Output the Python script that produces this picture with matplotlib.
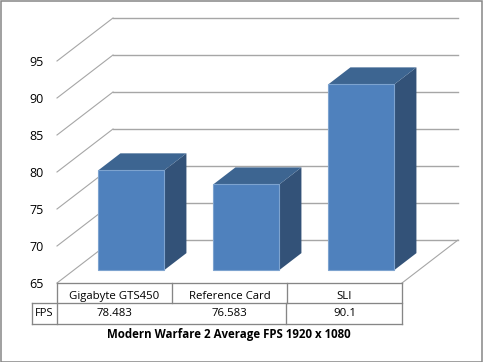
import matplotlib
matplotlib.use('Agg')
import matplotlib.pyplot as plt
from matplotlib.patches import Polygon, Rectangle

categories = ['Gigabyte GTS450', 'Reference Card', 'SLI']
fps = [78.483, 76.583, 90.1]
fps_labels = ['78.483', '76.583', '90.1']
yticks = [65, 70, 75, 80, 85, 90, 95]
series_name = 'FPS'
title = 'Modern Warfare 2 Average FPS 1920 x 1080'

# pixel scale of the reference: 115 px per category, 7.4 px per FPS
PX_X = 115.0
PX_Y = 7.4
BASE = 65

# oblique depth of the floor and of the bars
depth_x = 56 / PX_X
depth_y = 43 / PX_Y
front = 0.30
back = 0.695
bar_w = 66 / PX_X

GRID = '#a6a6a6'
LINE = '#868686'
FRONT = '#4f81bd'
TOP = '#3d6591'
SIDE = '#335278'
TABLE_LW = 0.95

plt.rcParams['font.family'] = ['Open Sans', 'DejaVu Sans']

fig = plt.figure(figsize=(4.83, 3.62), dpi=100)
ax = fig.add_axes([0, 0, 1, 1])
ax.set_xlim(-0.5 - 57 / PX_X, -0.5 + (483 - 57) / PX_X)
ax.set_ylim(BASE - (362 - 283) / PX_Y, BASE + 283 / PX_Y)
ax.axis('off')

x0, x1 = -0.5, len(categories) - 0.5

# walls and floor lines
for v in yticks:
    ax.plot([x0, x0 + depth_x], [v, v + depth_y], color=GRID, lw=0.8, zorder=1)
    ax.plot([x0 + depth_x, x1 + depth_x], [v + depth_y, v + depth_y], color=GRID, lw=1.0, zorder=1)
    ax.text(x0 - 13.3 / PX_X, v - 1.5 / PX_Y, str(v), ha='right', va='center', fontsize=9, color='black')
ax.plot([x1, x1 + depth_x], [BASE, BASE + depth_y], color=GRID, lw=0.8, zorder=1)

# bars
for i, v in enumerate(fps):
    l = i - bar_w / 2 + front * depth_x
    r = l + bar_w
    fy = BASE + front * depth_y
    dx = (back - front) * depth_x
    dy = (back - front) * depth_y
    top = v + front * depth_y
    ax.add_patch(Polygon([(r, fy), (r + dx, fy + dy), (r + dx, top + dy), (r, top)], fc=SIDE, ec='none', zorder=3))
    ax.add_patch(Polygon([(l, top), (l + dx, top + dy), (r + dx, top + dy), (r, top)], fc=TOP, ec='none', zorder=3))
    ax.add_patch(Rectangle((l, fy), bar_w, top - fy, fc=FRONT, ec='#7da3cf', lw=0.8, zorder=4))

# data table
row1 = BASE - 20 / PX_Y
row2 = BASE - 41.5 / PX_Y
head = x0 - 25.5 / PX_X
ax.plot([x0, x1], [BASE, BASE], color=LINE, lw=TABLE_LW, zorder=5)
ax.plot([head, x1], [row1, row1], color=LINE, lw=TABLE_LW, zorder=5)
ax.plot([head, x1], [row2, row2], color=LINE, lw=TABLE_LW, zorder=5)
ax.plot([head, head], [row1, row2], color=LINE, lw=TABLE_LW, zorder=5)
ax.plot([x0, x0], [BASE, row2], color=LINE, lw=TABLE_LW, zorder=5)
ax.plot([x1, x1], [BASE, row2], color=LINE, lw=TABLE_LW, zorder=5)
# upper row has both dividers, lower row only the second one
ax.plot([0.5, 0.5], [BASE, row1], color=LINE, lw=TABLE_LW, zorder=5)
ax.plot([1.5, 1.5], [BASE, row1], color=LINE, lw=TABLE_LW, zorder=5)
ax.plot([1.5 - 1 / PX_X, 1.5 - 1 / PX_X], [row1, row2], color=LINE, lw=TABLE_LW, zorder=5)
for i, (c, lab) in enumerate(zip(categories, fps_labels)):
    ax.text(i, BASE - 13.5 / PX_Y, c, ha='center', va='center', fontsize=8.2)
    ax.text(i, BASE - 30.7 / PX_Y, lab, ha='center', va='center', fontsize=8.2)
ax.text((head + x0) / 2, BASE - 30 / PX_Y, series_name, ha='center', va='center', fontsize=8)

ax.text(1.0 - 0.5 / PX_X, BASE - 52 / PX_Y, title, ha='center', va='center', fontsize=8.3, fontweight='bold')

# chart frame
fig.add_artist(Rectangle((0.5 / 483, 0.5 / 362), 481.5 / 483, 360.5 / 362, transform=fig.transFigure,
                         fc='none', ec=LINE, lw=1.1))

fig.savefig('out.png', dpi=100)
